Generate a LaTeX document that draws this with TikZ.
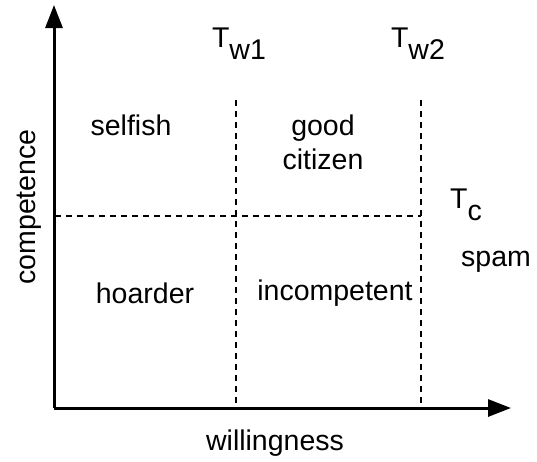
\documentclass[tikz,border=0pt]{standalone}
\usepackage{fontspec}
\setmainfont{Liberation Sans}
\usetikzlibrary{arrows.meta}
\begin{document}
\begin{tikzpicture}[x=1pt,y=-1pt,
  lbl/.style={font=\fontsize{28.5}{34}\selectfont, inner sep=0pt, align=center},
  axis/.style={line width=3pt,-{Triangle[length=23pt,width=17pt]}},
  dashline/.style={line width=2.2pt,dash pattern=on 6pt off 5pt}]
\useasboundingbox (0,0) rectangle (537,461);
\coordinate (O) at (54,408);
\coordinate (ytop) at (54,5);
\coordinate (xend) at (511,408);
\draw[axis] (O) -- (ytop);
\draw[axis] (O) -- (xend);
\coordinate (v1t) at (236,100);
\coordinate (v1b) at (236,407);
\coordinate (v2t) at (421,100);
\coordinate (v2b) at (421,407);
\coordinate (hl) at (55,216);
\coordinate (hr) at (421,216);
\draw[dashline] (v1t) -- (v1b);
\draw[dashline] (v2t) -- (v2b);
\draw[dashline] (hl) -- (hr);
\node[lbl] (tw1) at (239,44) {T\raisebox{-12pt}{w1}};
\node[lbl] (tw2) at (418,44) {T\raisebox{-12pt}{w2}};
\node[lbl] (tc) at (466,205) {T\raisebox{-12pt}{c}};
\node[lbl] (selfish) at (131,125) {selfish};
\node[lbl] (good) at (323,142) {good\\citizen};
\node[lbl] (spam) at (496,262) {spam};
\node[lbl] (hoarder) at (145,293) {hoarder};
\node[lbl] (incomp) at (335,293) {incompetent};
\node[lbl] (will) at (275,443) {willingness};
\node[lbl,rotate=90] (comp) at (29,207) {competence};
\end{tikzpicture}
\end{document}
